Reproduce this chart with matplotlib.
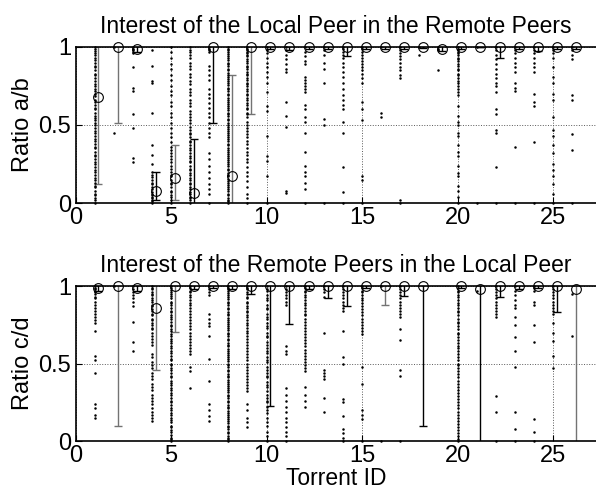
import matplotlib.pyplot as plt
import numpy as np

plt.rcParams['font.family'] = ['Liberation Sans', 'DejaVu Sans']

"""
Data read off the figure
"""

torrent_ids = list(range(1, 27))

# ratio a/b per peer, one list per torrent
ratio_ab = [
    [1.0, 0.99, 0.975, 0.96, 0.95, 0.93, 0.915, 0.9, 0.88, 0.87, 0.85, 0.83, 0.82, 0.8, 0.78, 0.765,
     0.75, 0.73, 0.72, 0.7, 0.685, 0.66, 0.65, 0.63, 0.61, 0.6, 0.58, 0.56, 0.545, 0.53, 0.51, 0.5,
     0.48, 0.46, 0.45, 0.43, 0.41, 0.4, 0.38, 0.36, 0.35, 0.33, 0.31, 0.3, 0.28, 0.26, 0.25, 0.23,
     0.21, 0.2, 0.18, 0.16, 0.15, 0.13, 0.11, 0.1, 0.08, 0.06, 0.05, 0.03, 0.02, 0.0],
    [1.0, 0.45],
    [1.0, 0.99, 0.98, 0.97, 0.96, 0.87, 0.74, 0.72, 0.57, 0.48, 0.29, 0.265],
    [0.98, 0.88, 0.78, 0.77, 0.58, 0.37, 0.31, 0.25, 0.2, 0.18, 0.165, 0.15, 0.13, 0.12, 0.1,
     0.09, 0.07, 0.06, 0.05, 0.04, 0.03, 0.02, 0.01, 0.0],
    [1.0, 0.97, 0.93, 0.89, 0.86, 0.82, 0.79, 0.75, 0.72, 0.69, 0.65, 0.62, 0.58, 0.55, 0.51, 0.48,
     0.45, 0.42, 0.39, 0.36, 0.34, 0.32, 0.3, 0.28, 0.26, 0.24, 0.22, 0.2, 0.18, 0.17, 0.15, 0.13,
     0.12, 0.1, 0.08, 0.07, 0.05, 0.04, 0.02, 0.0],
    [1.0, 0.98, 0.965, 0.95, 0.93, 0.9, 0.88, 0.86, 0.83, 0.81, 0.78, 0.76, 0.73, 0.71, 0.69, 0.66,
     0.64, 0.62, 0.59, 0.57, 0.55, 0.53, 0.51, 0.49, 0.47, 0.45, 0.44, 0.42, 0.4, 0.39, 0.37, 0.35,
     0.34, 0.32, 0.3, 0.29, 0.27, 0.26, 0.24, 0.22, 0.21, 0.19, 0.18, 0.16, 0.15, 0.13, 0.12, 0.1,
     0.09, 0.07, 0.06, 0.04, 0.03, 0.02, 0.0],
    [1.0, 0.99, 0.98, 0.97, 0.88, 0.85, 0.82, 0.79, 0.73, 0.7, 0.67, 0.64, 0.61, 0.58, 0.55, 0.51,
     0.48, 0.45, 0.42, 0.32, 0.28, 0.24, 0.2, 0.16, 0.12, 0.09, 0.06, 0.0],
    [1.0, 0.99, 0.98, 0.965, 0.955, 0.94, 0.93, 0.915, 0.9, 0.89, 0.875, 0.86, 0.85, 0.835, 0.82,
     0.81, 0.795, 0.78, 0.77, 0.755, 0.74, 0.73, 0.715, 0.7, 0.69, 0.675, 0.66, 0.65, 0.635, 0.62,
     0.61, 0.595, 0.58, 0.57, 0.555, 0.54, 0.53, 0.515, 0.5, 0.49, 0.475, 0.46, 0.45, 0.435, 0.42,
     0.41, 0.395, 0.38, 0.37, 0.355, 0.34, 0.33, 0.315, 0.3, 0.29, 0.275, 0.26, 0.25, 0.235, 0.22,
     0.21, 0.195, 0.18, 0.17, 0.155, 0.14, 0.13, 0.115, 0.1, 0.09, 0.075, 0.06, 0.05, 0.035, 0.02,
     0.01, 0.0],
    [1.0, 0.99, 0.98, 0.97, 0.96, 0.95, 0.94, 0.92, 0.91, 0.9, 0.88, 0.87, 0.86, 0.84, 0.83, 0.82,
     0.8, 0.79, 0.77, 0.76, 0.75, 0.73, 0.72, 0.7, 0.69, 0.67, 0.66, 0.64, 0.63, 0.61, 0.6, 0.58,
     0.57, 0.55, 0.52, 0.5, 0.48, 0.46, 0.44, 0.42, 0.4, 0.38, 0.35, 0.33, 0.31, 0.28, 0.26, 0.23,
     0.2, 0.17, 0.14, 0.1, 0.06, 0.03, 0.0],
    [1.0, 0.98, 0.96, 0.93, 0.9, 0.87, 0.84, 0.81, 0.77, 0.71, 0.62, 0.59, 0.43, 0.3, 0.27, 0.17, 0.0],
    [1.0, 0.98, 0.95, 0.92, 0.89, 0.86, 0.84, 0.65, 0.56, 0.49, 0.08, 0.065],
    [1.0, 0.97, 0.94, 0.91, 0.89, 0.81, 0.79, 0.77, 0.75, 0.73, 0.71, 0.63, 0.6, 0.55, 0.52, 0.45,
     0.33, 0.24, 0.2, 0.17, 0.13, 0.09, 0.0],
    [1.0, 0.98, 0.95, 0.9, 0.86, 0.77, 0.54, 0.5, 0.0],
    [1.0, 0.99, 0.97, 0.95, 0.93, 0.9, 0.87, 0.84, 0.81, 0.77, 0.73, 0.69, 0.66, 0.63, 0.6, 0.52,
     0.45, 0.23, 0.07, 0.0],
    [1.0, 0.99, 0.97, 0.95, 0.93, 0.91, 0.89, 0.87, 0.85, 0.83, 0.8, 0.77, 0.65, 0.6, 0.53, 0.17,
     0.15, 0.0],
    [1.0, 0.58, 0.55],
    [1.0, 0.98, 0.96, 0.94, 0.92, 0.9, 0.87, 0.85, 0.82, 0.8, 0.02, 0.0],
    [1.0, 0.95],
    [1.0, 0.99, 0.98, 0.85],
    [1.0, 0.99, 0.98, 0.97, 0.96, 0.95, 0.93, 0.92, 0.91, 0.89, 0.88, 0.86, 0.85, 0.83, 0.82, 0.8,
     0.78, 0.77, 0.75, 0.73, 0.71, 0.69, 0.62, 0.56, 0.52, 0.5, 0.45, 0.43, 0.37, 0.33, 0.3, 0.24,
     0.19, 0.17, 0.11, 0.08, 0.04, 0.0],
    [1.0, 0.0],
    [1.0, 0.98, 0.95, 0.92, 0.89, 0.86, 0.83, 0.8, 0.77, 0.75, 0.71, 0.6, 0.57, 0.47, 0.45, 0.23, 0.0],
    [1.0, 0.98, 0.96, 0.93, 0.9, 0.87, 0.84, 0.77, 0.74, 0.72, 0.36, 0.0],
    [1.0, 0.98, 0.96, 0.93, 0.9, 0.87, 0.84, 0.7, 0.65, 0.62, 0.39, 0.0],
    [1.0, 0.98, 0.96, 0.93, 0.87, 0.81, 0.77, 0.7, 0.66, 0.55, 0.47, 0.43, 0.37, 0.32, 0.25, 0.21,
     0.17, 0.12, 0.06, 0.0],
    [1.0, 0.98, 0.95, 0.92, 0.69, 0.66, 0.44, 0.34, 0.0],
]

# mean marker and lower/upper end of each error bar (a/b)
ab_mean = [0.68, 1.0, 0.99, 0.08, 0.16, 0.065, 1.0, 0.17, 1.0, 1.0, 1.0, 1.0, 1.0,
           1.0, 1.0, 1.0, 1.0, 1.0, 0.99, 1.0, 1.0, 1.0, 1.0, 1.0, 1.0, 1.0]
ab_low = [0.12, 0.51, 0.965, 0.02, 0.02, -0.1, 0.51, -0.5, 0.57, 0.985, 0.98, 0.985, 0.985,
          0.94, 0.985, 0.99, 0.985, 0.995, 0.975, 0.99, 1.0, 0.93, 0.985, 0.975, 0.99, 0.99]
ab_high = [1.25, 1.5, 1.02, 0.20, 0.37, 0.41, 1.5, 0.82, 1.4, 1.02, 1.02, 1.02, 1.02,
           1.06, 1.02, 1.02, 1.02, 1.01, 1.02, 1.02, 1.0, 1.07, 1.02, 1.03, 1.02, 1.02]
ab_gray = [1, 2, 5, 8, 9]

# ratio c/d per peer, one list per torrent
ratio_cd = [
    [1.0, 0.99, 0.98, 0.97, 0.96, 0.95, 0.93, 0.92, 0.9, 0.88, 0.86, 0.84, 0.82, 0.8, 0.78, 0.76,
     0.71, 0.55, 0.52, 0.44, 0.24, 0.21, 0.17, 0.15],
    [1.0],
    [1.0, 0.98, 0.96, 0.94, 0.92, 0.9, 0.87, 0.77, 0.64, 0.58],
    [1.0, 0.99, 0.98, 0.96, 0.95, 0.94, 0.92, 0.91, 0.9, 0.88, 0.87, 0.85, 0.84, 0.82, 0.81, 0.79,
     0.78, 0.76, 0.75, 0.73, 0.72, 0.7, 0.68, 0.66, 0.64, 0.62, 0.56, 0.54, 0.51, 0.49, 0.47, 0.44,
     0.42, 0.4, 0.37, 0.35, 0.33, 0.3, 0.28, 0.26, 0.24, 0.21, 0.19, 0.17, 0.15, 0.13],
    [1.0, 0.99, 0.975, 0.96, 0.95, 0.935, 0.92, 0.9, 0.89, 0.875, 0.86, 0.84, 0.83, 0.815, 0.8,
     0.785, 0.77, 0.75, 0.74, 0.72, 0.71, 0.69, 0.68, 0.66, 0.645, 0.63, 0.61, 0.6, 0.58, 0.565,
     0.55, 0.53, 0.52, 0.5, 0.49, 0.47, 0.455, 0.44, 0.42, 0.41, 0.39, 0.375, 0.36, 0.34, 0.33,
     0.31, 0.295, 0.28, 0.26, 0.25, 0.23, 0.215, 0.2, 0.18, 0.17, 0.15, 0.135, 0.12, 0.1, 0.09,
     0.07, 0.055, 0.04, 0.02, 0.01, 0.0],
    [1.0, 0.99, 0.97, 0.96, 0.94, 0.93, 0.91, 0.89, 0.88, 0.86, 0.84, 0.82, 0.8, 0.78, 0.76, 0.74,
     0.72, 0.7, 0.68, 0.66, 0.64, 0.62, 0.6, 0.58, 0.56, 0.48, 0.45, 0.34],
    [1.0, 0.98, 0.96, 0.94, 0.82, 0.79, 0.76, 0.74, 0.68, 0.53, 0.39, 0.24, 0.2, 0.16, 0.13],
    [1.0, 0.99, 0.98, 0.965, 0.955, 0.94, 0.93, 0.915, 0.9, 0.89, 0.875, 0.86, 0.85, 0.835, 0.82,
     0.81, 0.795, 0.78, 0.77, 0.755, 0.74, 0.73, 0.715, 0.7, 0.69, 0.675, 0.66, 0.65, 0.635, 0.62,
     0.61, 0.595, 0.58, 0.57, 0.555, 0.54, 0.53, 0.515, 0.5, 0.49, 0.475, 0.46, 0.45, 0.435, 0.42,
     0.41, 0.395, 0.38, 0.37, 0.355, 0.34, 0.33, 0.315, 0.3, 0.29, 0.275, 0.26, 0.25, 0.235, 0.22,
     0.21, 0.195, 0.18, 0.17, 0.155, 0.14, 0.13, 0.115, 0.1, 0.09, 0.075, 0.06, 0.05, 0.035, 0.02,
     0.01, 0.0],
    [1.0, 0.99, 0.98, 0.96, 0.95, 0.93, 0.92, 0.9, 0.89, 0.87, 0.86, 0.84, 0.83, 0.81, 0.8, 0.78,
     0.76, 0.75, 0.73, 0.71, 0.7, 0.68, 0.66, 0.64, 0.62, 0.6, 0.58, 0.56, 0.54, 0.52, 0.5, 0.48,
     0.46, 0.44, 0.42, 0.4, 0.38, 0.36, 0.34, 0.32, 0.24, 0.2, 0.15, 0.12, 0.09],
    [1.0, 0.98, 0.97, 0.94, 0.92, 0.91, 0.88, 0.86, 0.85, 0.82, 0.8, 0.79, 0.76, 0.74, 0.73, 0.7,
     0.68, 0.67, 0.64, 0.62, 0.6, 0.58, 0.57, 0.54, 0.52, 0.51, 0.48, 0.46, 0.44, 0.42, 0.41, 0.38,
     0.36, 0.35, 0.32, 0.3, 0.28, 0.26, 0.25, 0.22, 0.2, 0.18, 0.15, 0.12, 0.1, 0.06, 0.03, 0.0],
    [1.0, 0.98, 0.96, 0.94, 0.92, 0.9, 0.88, 0.61, 0.58, 0.56, 0.34, 0.3, 0.26, 0.22, 0.19, 0.15,
     0.12, 0.09, 0.06, 0.03, 0.0],
    [1.0, 0.99, 0.97, 0.96, 0.94, 0.93, 0.91, 0.89, 0.88, 0.86, 0.84, 0.82, 0.81, 0.79, 0.77, 0.75,
     0.73, 0.71, 0.69, 0.67, 0.65, 0.63, 0.61, 0.59, 0.57, 0.55, 0.53, 0.51, 0.49, 0.47, 0.45,
     0.35, 0.3, 0.26, 0.22],
    [1.0, 0.98, 0.96, 0.93, 0.7, 0.46, 0.44, 0.42, 0.4, 0.28, 0.19],
    [1.0, 0.98, 0.96, 0.94, 0.92, 0.9, 0.88, 0.86, 0.84, 0.71, 0.54, 0.5, 0.27, 0.25, 0.16, 0.08,
     0.05, 0.02, 0.0],
    [1.0, 0.99, 0.97, 0.96, 0.94, 0.92, 0.91, 0.89, 0.87, 0.85, 0.83, 0.81, 0.79, 0.77, 0.75, 0.73,
     0.71, 0.69, 0.48, 0.37, 0.2, 0.17, 0.14, 0.0],
    [1.0, 0.0],
    [1.0, 0.98, 0.96, 0.94, 0.92, 0.9, 0.88, 0.86, 0.84, 0.82, 0.8, 0.72, 0.65, 0.46, 0.42, 0.0],
    [],
    [],
    [1.0, 0.99, 0.97, 0.96, 0.94, 0.93, 0.91, 0.89, 0.88, 0.86, 0.84, 0.83, 0.81, 0.79, 0.77, 0.76,
     0.74, 0.72, 0.7, 0.69, 0.67, 0.65, 0.63, 0.61, 0.6, 0.58, 0.56, 0.54, 0.52, 0.5, 0.49, 0.47,
     0.45, 0.43, 0.41, 0.39, 0.37, 0.35, 0.33, 0.31, 0.29, 0.27, 0.25, 0.23, 0.21, 0.19, 0.17,
     0.15, 0.13, 0.11, 0.09, 0.07, 0.05, 0.03, 0.01, 0.0],
    [0.97],
    [1.0, 0.98, 0.96, 0.94, 0.92, 0.9, 0.88, 0.86, 0.84, 0.82, 0.8, 0.29, 0.19, 0.0],
    [1.0, 0.97, 0.94, 0.91, 0.88, 0.86, 0.8, 0.75, 0.67, 0.58, 0.48, 0.19, 0.075, 0.0],
    [1.0, 0.99, 0.97, 0.9, 0.88, 0.75, 0.64, 0.14, 0.06, 0.0],
    [1.0, 0.98, 0.96, 0.94, 0.92, 0.9, 0.88, 0.86, 0.84, 0.82, 0.76, 0.7, 0.645, 0.55, 0.47],
    [0.95, 0.68],
]

# mean marker and lower/upper end of each error bar (c/d), None = no data
cd_mean = [0.99, 1.0, 0.99, 0.86, 1.0, 1.0, 1.0, 1.0, 1.0, 1.0, 1.0, 1.0, 1.0,
           1.0, 1.0, 1.0, 1.0, 1.0, None, 1.0, 0.98, 1.0, 1.0, 1.0, 1.0, 0.98]
cd_low = [0.97, 0.10, 0.97, 0.46, 0.705, 0.98, 0.985, 0.98, 0.95, 0.226, 0.757, 0.98, 0.925,
          0.87, 0.985, 0.88, 0.935, 0.097, None, 0.985, -1.0, 0.93, 0.98, 0.985, 0.83, -1.0]
cd_high = [1.03, 1.9, 1.03, 1.26, 1.3, 1.02, 1.02, 1.02, 1.05, 1.8, 1.25, 1.02, 1.08,
           1.13, 1.02, 1.12, 1.07, 1.9, None, 1.02, 2.9, 1.07, 1.02, 1.02, 1.17, 2.9]
cd_gray = [2, 4, 5, 16, 26]

"""
Plot
"""

def draw_panel(ax, samples, mean, low, high, gray, title, ylabel):
    for tid, vals in zip(torrent_ids, samples):
        if len(vals) == 0:
            continue
        ax.plot([tid] * len(vals), vals, '.', color='k', ms=3.6, mew=0, clip_on=False, zorder=3)
    for tid, m, lo, hi in zip(torrent_ids, mean, low, high):
        if m is None:
            continue
        c = '0.45' if tid in gray else 'k'
        ax.errorbar(tid + 0.2, m, yerr=[[m - lo], [hi - m]], fmt='none', ecolor=c,
                    elinewidth=1.0, capsize=3, capthick=1.0, zorder=2)
        ax.plot(tid + 0.2, m, 'o', mfc='none', mec='k', mew=0.8, ms=7, clip_on=False, zorder=4)

    ax.set_xlim(0, 27.25)
    ax.set_ylim(0, 1)
    ax.set_xticks([0, 5, 10, 15, 20, 25])
    ax.set_yticks([0, 0.5, 1])
    ax.set_yticklabels(['0', '0.5', '1'])
    ax.grid(True, linestyle=':', color='0.35', linewidth=0.7)
    ax.set_axisbelow(True)
    ax.spines['right'].set_visible(False)
    for s in ['left', 'top', 'bottom']:
        ax.spines[s].set_linewidth(1.2)
    ax.tick_params(direction='in', length=4, labelsize=17, pad=3)
    ax.set_title(title, fontsize=16.5, pad=10)
    ax.set_ylabel(ylabel, fontsize=17, labelpad=3)


fig = plt.figure(figsize=(5.96, 4.9), dpi=100)
ax1 = fig.add_axes([0.1267, 0.5857, 0.8733, 0.3184])
ax2 = fig.add_axes([0.1267, 0.1, 0.8733, 0.3163])

draw_panel(ax1, ratio_ab, ab_mean, ab_low, ab_high, ab_gray,
           'Interest of the Local Peer in the Remote Peers', 'Ratio a/b')
draw_panel(ax2, ratio_cd, cd_mean, cd_low, cd_high, cd_gray,
           'Interest of the Remote Peers in the Local Peer', 'Ratio c/d')
ax2.set_xlabel('Torrent ID', fontsize=16.5, labelpad=0)

plt.savefig('out.png', dpi=100)
